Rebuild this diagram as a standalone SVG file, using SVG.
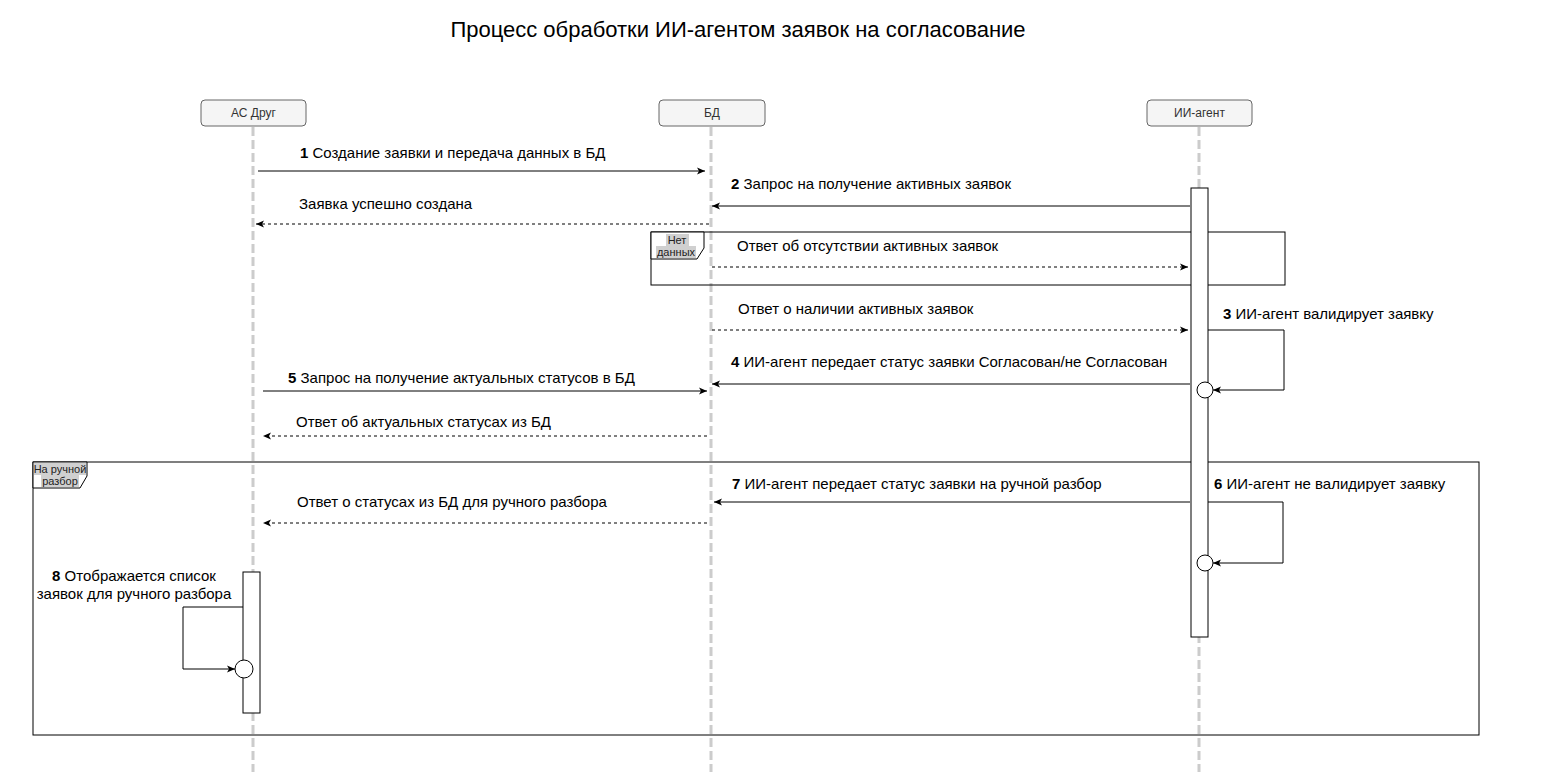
<svg xmlns="http://www.w3.org/2000/svg" width="1554" height="778" viewBox="0 0 1554 778">
<style>
text{font-family:"Liberation Sans",Arial,sans-serif;fill:#000}
.t{font-size:15px}
.b{font-weight:bold}
.hdr{fill:#f5f5f5;stroke:#666;stroke-width:1}
.ht{font-size:12px;fill:#333;text-anchor:middle}
.life{stroke:#ccc;stroke-width:3;stroke-dasharray:9 4;fill:none}
.msg{stroke:#000;stroke-width:1;fill:none}
.dash{stroke-dasharray:3 3}
.act{fill:#fff;stroke:#000;stroke-width:1}
.frame{fill:none;stroke:#000;stroke-width:1}
.flab{fill:#fff;stroke:#000;stroke-width:1}
.ft{font-size:11px;text-anchor:middle;fill:#222}
.fbg{fill:#d0d0d0}
</style>
<defs>
<marker id="arr" markerWidth="10" markerHeight="8" refX="8" refY="4" orient="auto" markerUnits="userSpaceOnUse">
<path d="M0,0.5 L8,4 L0,7.5 L2,4 z" fill="#000"/>
</marker>
</defs>
<text x="738" y="37" font-size="22" text-anchor="middle">Процесс обработки ИИ-агентом заявок на согласование</text>

<g id="lifelines">
<line class="life" x1="253" y1="127" x2="253" y2="772"/>
<line class="life" x1="711" y1="127" x2="711" y2="772"/>
<line class="life" x1="1199" y1="127" x2="1199" y2="772"/>
</g>

<g id="node-as">
<rect class="hdr" x="201" y="100" width="105" height="26" rx="4"/>
<text class="ht" x="253.5" y="117">АС Друг</text>
</g>
<g id="node-db">
<rect class="hdr" x="659" y="100" width="106" height="26" rx="4"/>
<text class="ht" x="712" y="117">БД</text>
</g>
<g id="node-ai">
<rect class="hdr" x="1147" y="100" width="105" height="26" rx="4"/>
<text class="ht" x="1199.5" y="117">ИИ-агент</text>
</g>

<g id="frame-nodata">
<rect class="frame" x="651" y="232" width="634" height="53"/>
<path class="flab" d="M651,232 H704 V248 L697,259 H651 Z"/>
<rect class="fbg" x="666" y="234" width="23" height="12"/>
<rect class="fbg" x="656" y="246" width="40" height="12"/>
<text class="ft" x="677" y="244">Нет</text>
<text class="ft" x="676" y="256">данных</text>
</g>

<g id="frame-manual">
<rect class="frame" x="33" y="462" width="1446" height="273"/>
<path class="flab" d="M33,462 H87 V476 L80,488 H33 Z"/>
<rect class="fbg" x="34" y="463" width="52" height="12"/>
<rect class="fbg" x="41" y="475" width="38" height="12"/>
<text class="ft" x="60" y="473">На ручной</text>
<text class="ft" x="60" y="485">разбор</text>
</g>

<g id="act-ai">
<rect class="act" x="1191" y="188" width="17" height="449"/>
</g>
<g id="act-as">
<rect class="act" x="243" y="572" width="17" height="141"/>
</g>

<g id="connectors">
<line class="msg" x1="258" y1="171" x2="705" y2="171" marker-end="url(#arr)"/>
<line class="msg dash" x1="709" y1="224" x2="256" y2="224" marker-end="url(#arr)"/>
<line class="msg" x1="1190" y1="206" x2="712" y2="206" marker-end="url(#arr)"/>
<line class="msg dash" x1="712" y1="267" x2="1188" y2="267" marker-end="url(#arr)"/>
<line class="msg dash" x1="712" y1="330" x2="1188" y2="330" marker-end="url(#arr)"/>
<path class="msg" d="M1208,330 H1284 V390 H1213" marker-end="url(#arr)"/>
<circle cx="1205" cy="390" r="8" fill="#fff" stroke="#000"/>
<line class="msg" x1="1190" y1="384" x2="712" y2="384" marker-end="url(#arr)"/>
<line class="msg" x1="263" y1="391" x2="707" y2="391" marker-end="url(#arr)"/>
<line class="msg dash" x1="707" y1="436" x2="263" y2="436" marker-end="url(#arr)"/>
<line class="msg" x1="1190" y1="502" x2="714" y2="502" marker-end="url(#arr)"/>
<path class="msg" d="M1208,502 H1283 V563 H1213" marker-end="url(#arr)"/>
<circle cx="1205" cy="563" r="8" fill="#fff" stroke="#000"/>
<line class="msg dash" x1="707" y1="523" x2="263" y2="523" marker-end="url(#arr)"/>
<path class="msg" d="M243,607 H183 V669 H235" marker-end="url(#arr)"/>
<circle cx="244" cy="669" r="9" fill="#fff" stroke="#000"/>
</g>

<g id="labels">
<text class="t" x="300" y="158"><tspan class="b">1</tspan> Создание заявки и передача данных в БД</text>
<text class="t" x="299" y="209">Заявка успешно создана</text>
<text class="t" x="731" y="189"><tspan class="b">2</tspan> Запрос на получение активных заявок</text>
<text class="t" x="737" y="251">Ответ об отсутствии активных заявок</text>
<text class="t" x="738" y="314">Ответ о наличии активных заявок</text>
<text class="t" x="1223" y="319"><tspan class="b">3</tspan> ИИ-агент валидирует заявку</text>
<text class="t" x="731" y="367"><tspan class="b">4</tspan> ИИ-агент передает статус заявки Согласован/не Согласован</text>
<text class="t" x="288" y="383"><tspan class="b">5</tspan> Запрос на получение актуальных статусов в БД</text>
<text class="t" x="296" y="427">Ответ об актуальных статусах из БД</text>
<text class="t" x="732" y="489"><tspan class="b">7</tspan> ИИ-агент передает статус заявки на ручной разбор</text>
<text class="t" x="1214" y="489"><tspan class="b">6</tspan> ИИ-агент не валидирует заявку</text>
<text class="t" x="297" y="507">Ответ о статусах из БД для ручного разбора</text>
<text class="t" x="134" y="581" text-anchor="middle"><tspan class="b">8</tspan> Отображается список</text>
<text class="t" x="134" y="599" text-anchor="middle">заявок для ручного разбора</text>
</g>
</svg>
